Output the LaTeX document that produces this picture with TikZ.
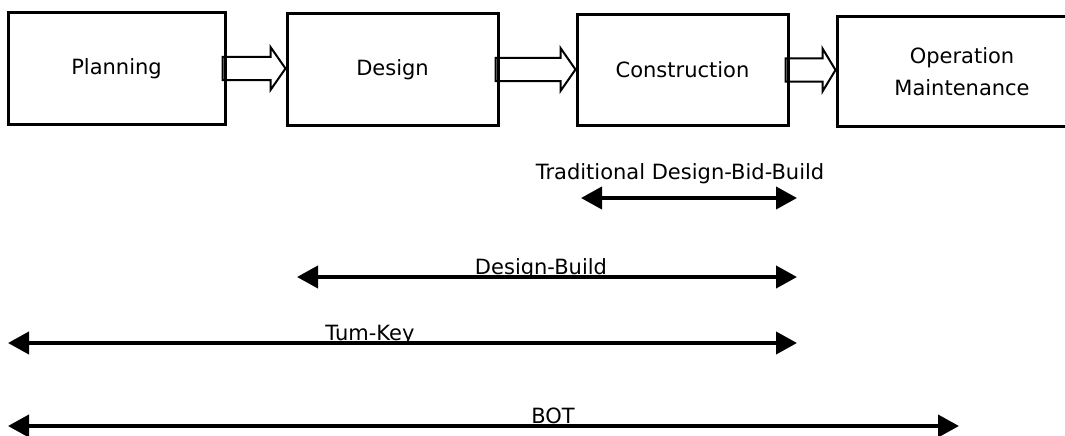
\documentclass[tikz,border=0pt]{standalone}
\usepackage{fontspec}
\setmainfont{DejaVu Sans}
\usetikzlibrary{arrows.meta,calc}

% flecha hueca entre dos fases: origen, destino, largo de la punta
\newcommand{\flechafase}[3]{%
  \draw[line width=2pt,line join=miter] let \p1=(#1.east), \p2=(#2.west) in
    (\x1-4pt,\y1+11.5pt) -- (\x2-#3pt,\y1+11.5pt) -- (\x2-#3pt,\y1+21.5pt) -- (\x2,\y1)
    -- (\x2-#3pt,\y1-21.5pt) -- (\x2-#3pt,\y1-11.5pt) -- (\x1-4pt,\y1-11.5pt) -- cycle;}

\begin{document}
\begin{tikzpicture}[x=1pt,y=-1pt,
  fase/.style={draw,line width=3pt,inner sep=0pt,align=center,
    font=\fontsize{21}{32}\selectfont},
  alcance/.style={line width=4pt,{Triangle[length=21pt,width=22pt]}-{Triangle[length=21pt,width=22pt]}},
  etiqueta/.style={anchor=base,inner sep=0pt,font=\fontsize{21}{25}\selectfont}]
  \path[use as bounding box] (0,0) rectangle (1065,436);
  \clip (0,0) rectangle (1065,436);

	% Fases
	\node[fase,minimum width=217pt,minimum height=111pt] (plan) at (116.5,68.5) {Planning};
	\node[fase,minimum width=211pt,minimum height=111pt] (dis) at (392.5,69.5) {Design};
	\node[fase,minimum width=211pt,minimum height=110pt] (cons) at (682.5,70) {Construction};
	\node[fase,minimum width=250pt,minimum height=109pt] (oper) at (962,71.5) {Operation\\Maintenance};

	% Flechas entre fases
	\flechafase{plan}{dis}{15}
	\flechafase{dis}{cons}{15}
	\flechafase{cons}{oper}{13}

	% Extremos de los alcances
	\coordinate (tdbb-i) at (581,198);
	\coordinate (tdbb-d) at (797,198);
	\coordinate (db-i) at (297,277);
	\coordinate (db-d) at (797,277);
	\coordinate (tk-i) at (8,343);
	\coordinate (tk-d) at (797,343);
	\coordinate (bot-i) at (8,426);
	\coordinate (bot-d) at (959,426);

	% Alcances
	\draw[alcance] (tdbb-i) -- (tdbb-d);
	\draw[alcance] (db-i) -- (db-d);
	\draw[alcance] (tk-i) -- (tk-d);
	\draw[alcance] (bot-i) -- (bot-d);

	% Etiquetas
	\node[etiqueta] (l-tdbb) at (680,179) {Traditional Design-Bid-Build};
	\node[etiqueta] (l-db) at (541,274) {Design-Build};
	\node[etiqueta] (l-tk) at (370,340) {Tum-Key};
	\node[etiqueta] (l-bot) at (553,423) {BOT};
\end{tikzpicture}
\end{document}
